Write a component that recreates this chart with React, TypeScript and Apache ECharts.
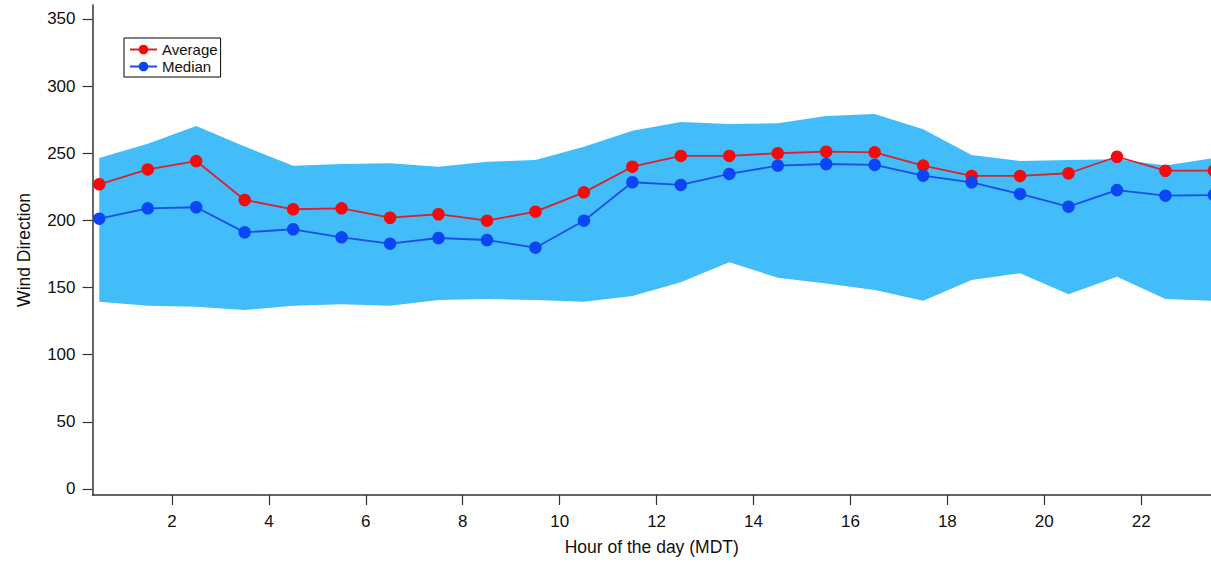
import React, { useEffect, useRef } from "react";
import * as echarts from "echarts";

const hours = [0.5, 1.5, 2.5, 3.5, 4.5, 5.5, 6.5, 7.5, 8.5, 9.5, 10.5, 11.5, 12.5, 13.5, 14.5, 15.5, 16.5, 17.5, 18.5, 19.5, 20.5, 21.5, 22.5, 23.5];
const average = [226.9, 238.0, 244.2, 215.2, 208.3, 209.0, 202.0, 204.6, 199.8, 206.5, 220.9, 240.0, 248.0, 248.0, 250.0, 251.2, 250.7, 240.8, 233.1, 233.1, 235.1, 247.4, 237.0, 237.0];
const median = [201.3, 209.0, 209.8, 191.1, 193.4, 187.4, 182.7, 186.9, 185.4, 179.7, 199.8, 228.4, 226.4, 234.6, 240.8, 242.0, 241.3, 233.3, 228.4, 219.7, 210.2, 222.6, 218.4, 218.9];
const upper = [246.5, 257.0, 270.3, 255.0, 240.7, 242.0, 242.5, 240.0, 243.7, 245.0, 254.9, 266.8, 273.3, 271.8, 272.3, 277.8, 279.2, 267.8, 248.7, 244.2, 245.0, 245.5, 240.9, 246.5];
const lower = [139.5, 136.5, 135.7, 133.3, 136.5, 137.5, 136.5, 140.7, 141.5, 140.7, 139.5, 143.7, 153.9, 168.8, 157.3, 153.0, 148.2, 140.2, 155.6, 160.6, 145.0, 158.1, 141.5, 140.0];
const xTicks = [2, 4, 6, 8, 10, 12, 14, 16, 18, 20, 22];
const yTicks = [0, 50, 100, 150, 200, 250, 300, 350];

export default function App() {
  const ref = useRef<HTMLDivElement>(null);
  useEffect(() => {
    if (!ref.current) return;
    const chart = echarts.init(ref.current, undefined, { renderer: "svg" });
    const font = "'Liberation Sans', Arial, sans-serif";
    const axisColor = "#333";
    chart.setOption({
      animation: false,
      backgroundColor: "#fff",
      textStyle: { fontFamily: font },
      grid: { left: 92.5, top: 5, right: 0, bottom: 70 },
      legend: {
        left: 124,
        top: 38,
        orient: "vertical",
        data: ["Average", "Median"],
        borderColor: "#000",
        borderWidth: 1,
        borderRadius: 0,
        padding: [4, 3, 3, 5],
        itemGap: 2,
        itemWidth: 27,
        itemHeight: 12,
        textStyle: { fontSize: 15, color: "#111", fontFamily: font },
      },
      xAxis: {
        type: "value",
        min: 0.36,
        max: 23.44,
        name: "Hour of the day (MDT)",
        nameLocation: "middle",
        nameGap: 43,
        nameTextStyle: { fontSize: 17.5, color: "#111", fontFamily: font },
        splitLine: { show: false },
        axisLine: { show: true, onZero: false, lineStyle: { color: axisColor, width: 1.5 } },
        axisTick: { show: true, length: 10, lineStyle: { color: axisColor, width: 1.2 }, customValues: xTicks },
        axisLabel: { fontSize: 17, color: "#111", margin: 18, fontFamily: font, customValues: xTicks },
      },
      yAxis: {
        type: "value",
        min: -4.47,
        max: 360.4,
        name: "Wind Direction",
        nameLocation: "middle",
        nameGap: 60,
        nameRotate: 90,
        nameTextStyle: { fontSize: 17.5, color: "#111", fontFamily: font },
        splitLine: { show: false },
        axisLine: { show: true, onZero: false, lineStyle: { color: axisColor, width: 1.5 } },
        axisTick: { show: true, length: 10, lineStyle: { color: axisColor, width: 1.2 }, customValues: yTicks },
        axisLabel: { fontSize: 17, color: "#111", margin: 17, fontFamily: font, customValues: yTicks },
      },
      series: [
        {
          name: "band",
          type: "custom",
          data: hours.map((h, i) => [h, lower[i], upper[i]]),
          encode: { x: 0, y: [1, 2] },
          silent: true,
          clip: false,
          z: 1,
          renderItem: (params: any, api: any) => {
            if (params.dataIndex !== 0) return null;
            const top = hours.map((h, i) => api.coord([h, upper[i]]));
            const bot = hours.map((h, i) => api.coord([h, lower[i]])).reverse();
            return {
              type: "polygon",
              shape: { points: top.concat(bot) },
              style: { fill: "#42BDF9", stroke: "none" },
            };
          },
        },
        {
          name: "Average",
          type: "line",
          data: hours.map((h, i) => [h, average[i]]),
          symbol: "circle",
          symbolSize: 12.5,
          color: "#F40A0A",
          itemStyle: { color: "#F40A0A" },
          lineStyle: { color: "#D8232A", width: 1.8 },
          clip: false,
          z: 3,
        },
        {
          name: "Median",
          type: "line",
          data: hours.map((h, i) => [h, median[i]]),
          symbol: "circle",
          symbolSize: 12.5,
          color: "#0A46F5",
          itemStyle: { color: "#0A46F5" },
          lineStyle: { color: "#1A50E8", width: 1.8 },
          clip: false,
          z: 3,
        },
      ],
    });
    return () => chart.dispose();
  }, []);
  return <div ref={ref} style={{ position: "absolute", left: 0, top: 0, width: 1211, height: 565 }} />;
}
